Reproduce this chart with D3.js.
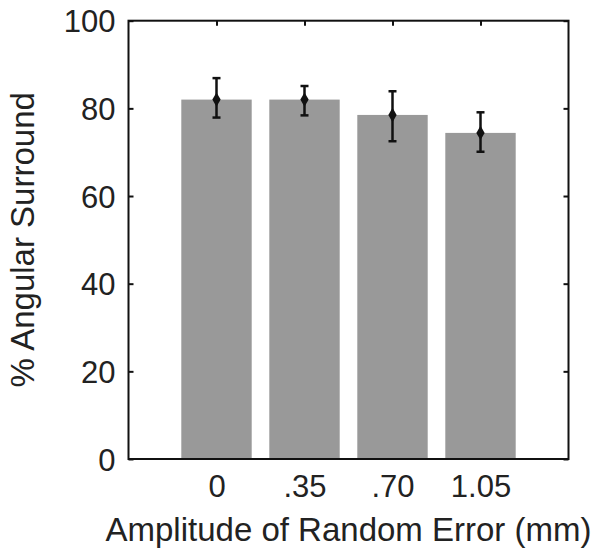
<!DOCTYPE html>
<html>
<head>
<meta charset="utf-8">
<script src="https://cdn.jsdelivr.net/npm/d3@7"></script>
<style>
  body { margin: 0; background: #fff; }
  text { font-family: "Liberation Sans", Arial, sans-serif; fill: #222; }
</style>
</head>
<body>
<div id="chart"></div>
<script>
// values
const categories = ['0', '.35', '.70', '1.05'];
const means = [82.0, 82.0, 78.5, 74.4];
const upper = [86.9, 85.1, 83.9, 79.1];
const lower = [77.9, 78.4, 72.5, 70.1];
const yTicks = [0, 20, 40, 60, 80, 100];

const data = categories.map((c, i) => ({
    label: c,
    pos: i + 1,
    mean: means[i],
    hi: upper[i],
    lo: lower[i]
}));

const width = 600, height = 559;
const margin = { top: 20.7, right: 31.5, bottom: 100, left: 128.5 };

const svg = d3.select('#chart')
    .append('svg')
    .attr('width', width)
    .attr('height', height);

// matlab-style axes: xlim [0 5], bars at 1..4
const x = d3.scaleLinear()
    .domain([0, 5])
    .range([margin.left, width - margin.right]);

const y = d3.scaleLinear()
    .domain([0, 100])
    .range([height - margin.bottom, margin.top]);

const barWidth = (x(1) - x(0)) * 0.8;

// tick marks (drawn under the bars)
svg.append('g')
    .attr('class', 'axis y-left')
    .attr('transform', `translate(${x(0)},0)`)
    .call(d3.axisLeft(y).tickValues(yTicks).tickSize(-5).tickPadding(13))
    .call(g => g.select('.domain').remove())
    .call(g => g.selectAll('text').style('font-size', '31px').attr('dy', '0.36em'));

svg.append('g')
    .attr('transform', `translate(${x(5)},0)`)
    .call(d3.axisRight(y).tickValues(yTicks).tickSize(-5).tickFormat(''))
    .call(g => g.select('.domain').remove());

svg.append('g')
    .attr('transform', `translate(0,${y(100)})`)
    .call(d3.axisTop(x).tickValues(data.map(d => d.pos)).tickSize(-5).tickFormat(''))
    .call(g => g.select('.domain').remove());

svg.append('g')
    .attr('class', 'axis x-axis')
    .attr('transform', `translate(0,${y(0)})`)
    .call(d3.axisBottom(x).tickValues(data.map(d => d.pos))
        .tickFormat((d, i) => categories[i]).tickSize(0).tickPadding(16))
    .call(g => g.select('.domain').remove())
    .call(g => g.selectAll('text').style('font-size', '31px'));

svg.selectAll('.tick line')
    .attr('stroke', '#111')
    .attr('stroke-width', 2);

// bars
svg.selectAll('.bar')
    .data(data)
    .join('rect')
    .attr('class', 'bar')
    .attr('x', d => x(d.pos) - barWidth / 2)
    .attr('y', d => y(d.mean))
    .attr('width', barWidth)
    .attr('height', d => y(0) - y(d.mean))
    .attr('fill', '#999999');

// error bars
const err = svg.append('g').attr('stroke', '#111').attr('stroke-width', 2.5);

err.selectAll('.stem')
    .data(data)
    .join('line')
    .attr('x1', d => x(d.pos))
    .attr('x2', d => x(d.pos))
    .attr('y1', d => y(d.lo))
    .attr('y2', d => y(d.hi));

err.selectAll('.cap-hi')
    .data(data)
    .join('line')
    .attr('x1', d => x(d.pos) - 4)
    .attr('x2', d => x(d.pos) + 4)
    .attr('y1', d => y(d.hi))
    .attr('y2', d => y(d.hi));

err.selectAll('.cap-lo')
    .data(data)
    .join('line')
    .attr('x1', d => x(d.pos) - 4)
    .attr('x2', d => x(d.pos) + 4)
    .attr('y1', d => y(d.lo))
    .attr('y2', d => y(d.lo));

svg.selectAll('.marker')
    .data(data)
    .join('path')
    .attr('class', 'marker')
    .attr('d', d3.symbol().type(d3.symbolDiamond).size(60))
    .attr('transform', d => `translate(${x(d.pos)},${y(d.mean)})`)
    .attr('fill', '#111');

// axes box on top
svg.append('rect')
    .attr('x', x(0))
    .attr('y', y(100))
    .attr('width', x(5) - x(0))
    .attr('height', y(0) - y(100))
    .attr('fill', 'none')
    .attr('stroke', '#111')
    .attr('stroke-width', 2);

// axis titles
svg.append('text')
    .attr('x', (x(0) + x(5)) / 2)
    .attr('y', 541)
    .style('text-anchor', 'middle')
    .style('font-size', '33px')
    .text('Amplitude of Random Error (mm)');

svg.append('text')
    .attr('transform', `translate(34,${(y(0) + y(100)) / 2}) rotate(-90)`)
    .style('text-anchor', 'middle')
    .style('font-size', '33px')
    .text('% Angular Surround');
</script>
</body>
</html>
